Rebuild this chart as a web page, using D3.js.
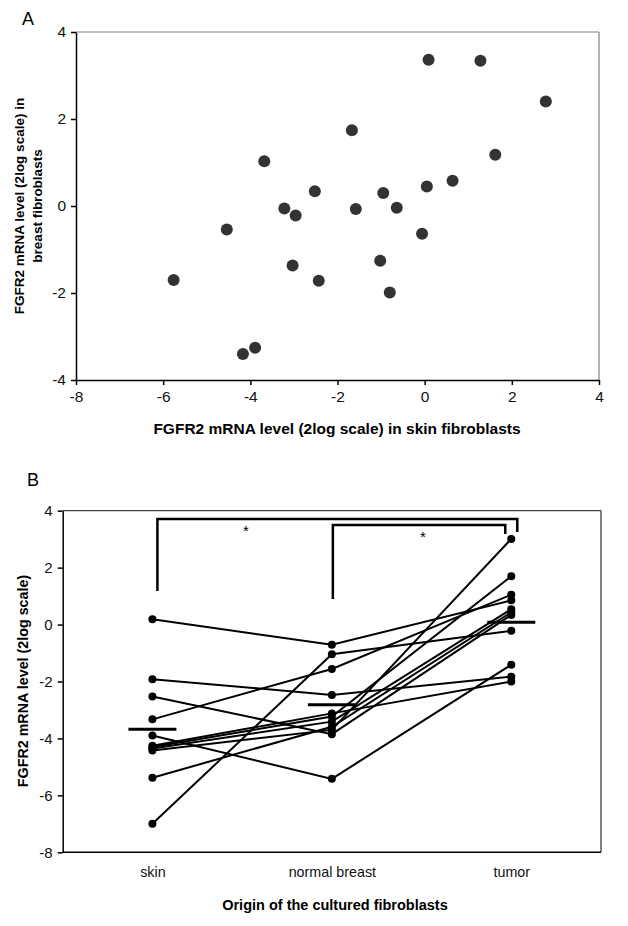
<!DOCTYPE html>
<html><head><meta charset="utf-8">
<script src="https://cdn.jsdelivr.net/npm/d3@7"></script>
<style>
body{margin:0;background:#fff;}
svg{display:block;font-family:"Liberation Sans",Arial,sans-serif;}
</style></head>
<body>
<svg id="c" width="628" height="926"></svg>
<script>
// Panel A data: skin (x) vs breast (y) FGFR2 levels
const skinA = [-5.76,-4.54,-4.17,-3.89,-3.68,-3.22,-2.96,-3.03,-2.52,-2.43,-1.67,-1.58,-1.02,-0.95,-0.80,-0.64,-0.06,0.05,0.09,0.64,1.28,1.62,2.78];
const breastA = [-1.70,-0.54,-3.40,-3.26,1.03,-0.06,-0.22,-1.37,0.34,-1.72,1.74,-0.07,-1.26,0.30,-1.99,-0.04,-0.64,0.45,3.36,0.58,3.34,1.18,2.40];
const xTicksA = [-8,-6,-4,-2,0,2,4];
const yTicksA = [-4,-2,0,2,4];

// Panel B data: paired values per patient
const categoriesB = ["skin","normal breast","tumor"];
const skinB   = [0.19,-1.92,-2.53,-3.33,-3.90,-7.00,-5.38,-4.26,-4.30,-4.35,-4.42];
const normalB = [-0.71,-2.47,-3.85,-1.56,-5.42,-1.04,-3.59,-3.12,-3.23,-3.41,-3.70];
const tumorB  = [0.85,-1.83,0.34,1.05,-1.41,-0.22,0.43,-2.00,1.70,0.54,3.01];
const meansB  = [-3.68,-2.82,0.08];
const yTicksB = [-8,-6,-4,-2,0,2,4];

const svg = d3.select("#c");
const FF = "Liberation Sans, Arial, sans-serif";
const fmt = d => String(d);

// ---------- Panel A ----------
const xA = d3.scaleLinear().domain([-8,4]).range([76,599]);
const yA = d3.scaleLinear().domain([-4,4]).range([380,32]);
const gA = svg.append("g");
gA.append("line").attr("x1",xA(-8)).attr("x2",xA(4)).attr("y1",yA(4)).attr("y2",yA(4)).attr("stroke","#808080").attr("stroke-width",1.2);
gA.append("line").attr("x1",xA(4)).attr("x2",xA(4)).attr("y1",yA(4)).attr("y2",yA(-4)).attr("stroke","#808080").attr("stroke-width",1.2);
const axXA = gA.append("g").attr("transform",`translate(0,${yA(-4)})`)
  .call(d3.axisBottom(xA).tickValues(xTicksA).tickFormat(fmt).tickSize(5).tickSizeOuter(0).tickPadding(6));
const axYA = gA.append("g").attr("transform",`translate(${xA(-8)},0)`)
  .call(d3.axisLeft(yA).tickValues(yTicksA).tickFormat(fmt).tickSize(5).tickSizeOuter(0).tickPadding(5));
[axXA,axYA].forEach(a=>{
  a.attr("font-size",15.5).attr("font-family",FF);
  a.selectAll("path,line").attr("stroke","#000").attr("stroke-width",1.5);
  a.selectAll("text").attr("fill","#111");
});
gA.selectAll("circle.pt").data(skinA.map((d,i)=>[d,breastA[i]])).enter().append("circle")
  .attr("cx",d=>xA(d[0])).attr("cy",d=>yA(d[1])).attr("r",6).attr("fill","#333");
gA.append("text").attr("x",22).attr("y",25).attr("font-size",18).text("A");
gA.append("text").attr("x",337).attr("y",434).attr("text-anchor","middle").attr("font-size",15.5).attr("font-weight","bold")
  .text("FGFR2 mRNA level (2log scale) in skin fibroblasts");
const ytA = gA.append("text").attr("transform","translate(24,206) rotate(-90)").attr("text-anchor","middle").attr("font-size",13.5).attr("font-weight","bold");
ytA.append("tspan").attr("x",0).attr("dy",0).text("FGFR2 mRNA level (2log scale) in");
ytA.append("tspan").attr("x",0).attr("dy",18).text("breast fibroblasts");

// ---------- Panel B ----------
const xB = d3.scalePoint().domain(categoriesB).range([62.7,601]).padding(0.5);
const yB = d3.scaleLinear().domain([-8,4]).range([852.3,510.7]);
const gB = svg.append("g");
gB.append("line").attr("x1",62.7).attr("x2",601).attr("y1",yB(4)).attr("y2",yB(4)).attr("stroke","#404040").attr("stroke-width",1.3);
gB.append("line").attr("x1",601).attr("x2",601).attr("y1",yB(4)).attr("y2",yB(-8)).attr("stroke","#404040").attr("stroke-width",1.3);
const axXB = gB.append("g").attr("transform",`translate(0,${yB(-8)})`)
  .call(d3.axisBottom(xB).tickSize(0).tickSizeOuter(0).tickPadding(15));
axXB.select(".domain").attr("d",`M62.7,0H601`);
const axYB = gB.append("g").attr("transform",`translate(62.7,0)`)
  .call(d3.axisLeft(yB).tickValues(yTicksB).tickFormat(fmt).tickSize(5).tickSizeOuter(0).tickPadding(5));
axXB.attr("font-size",14.3).attr("font-family",FF);
axYB.attr("font-size",15).attr("font-family",FF);
[axXB,axYB].forEach(a=>{
  a.selectAll("path,line").attr("stroke","#000").attr("stroke-width",1.5);
  a.selectAll("text").attr("fill","#111");
});

const series = skinB.map((d,i)=>[d,normalB[i],tumorB[i]]);
const lineGen = d3.line().x((d,i)=>xB(categoriesB[i])).y(d=>yB(d));
gB.selectAll("path.ser").data(series).enter().append("path")
  .attr("d",lineGen).attr("fill","none").attr("stroke","#000").attr("stroke-width",2);
series.forEach(s=>{
  gB.selectAll(null).data(s).enter().append("circle")
    .attr("cx",(d,i)=>xB(categoriesB[i])).attr("cy",d=>yB(d)).attr("r",4).attr("fill","#000");
});
gB.selectAll("line.mean").data(meansB).enter().append("line")
  .attr("x1",(d,i)=>xB(categoriesB[i])-24).attr("x2",(d,i)=>xB(categoriesB[i])+24)
  .attr("y1",d=>yB(d)).attr("y2",d=>yB(d)).attr("stroke","#000").attr("stroke-width",3);

// significance brackets
const xs = xB(categoriesB[0]), xn = xB(categoriesB[1]), xt = xB(categoriesB[2]);
gB.append("path").attr("d",`M${xs+5},${yB(1.18)}V${yB(3.71)}H${xt+6}V${yB(3.25)}`)
  .attr("fill","none").attr("stroke","#000").attr("stroke-width",2.5);
gB.append("path").attr("d",`M${xn+1},${yB(0.9)}V${yB(3.5)}H${xt-6}V${yB(3.18)}`)
  .attr("fill","none").attr("stroke","#000").attr("stroke-width",2.5);
gB.append("text").attr("x",246).attr("y",yB(3.71)+17).attr("text-anchor","middle").attr("font-size",15).text("*");
gB.append("text").attr("x",423).attr("y",yB(3.5)+17).attr("text-anchor","middle").attr("font-size",15).text("*");

gB.append("text").attr("x",27).attr("y",486).attr("font-size",18).text("B");
gB.append("text").attr("x",335).attr("y",910).attr("text-anchor","middle").attr("font-size",14.5).attr("font-weight","bold")
  .text("Origin of the cultured fibroblasts");
gB.append("text").attr("transform","translate(28,681) rotate(-90)").attr("text-anchor","middle").attr("font-size",14.3).attr("font-weight","bold")
  .text("FGFR2 mRNA level (2log scale)");
</script>
</body></html>
